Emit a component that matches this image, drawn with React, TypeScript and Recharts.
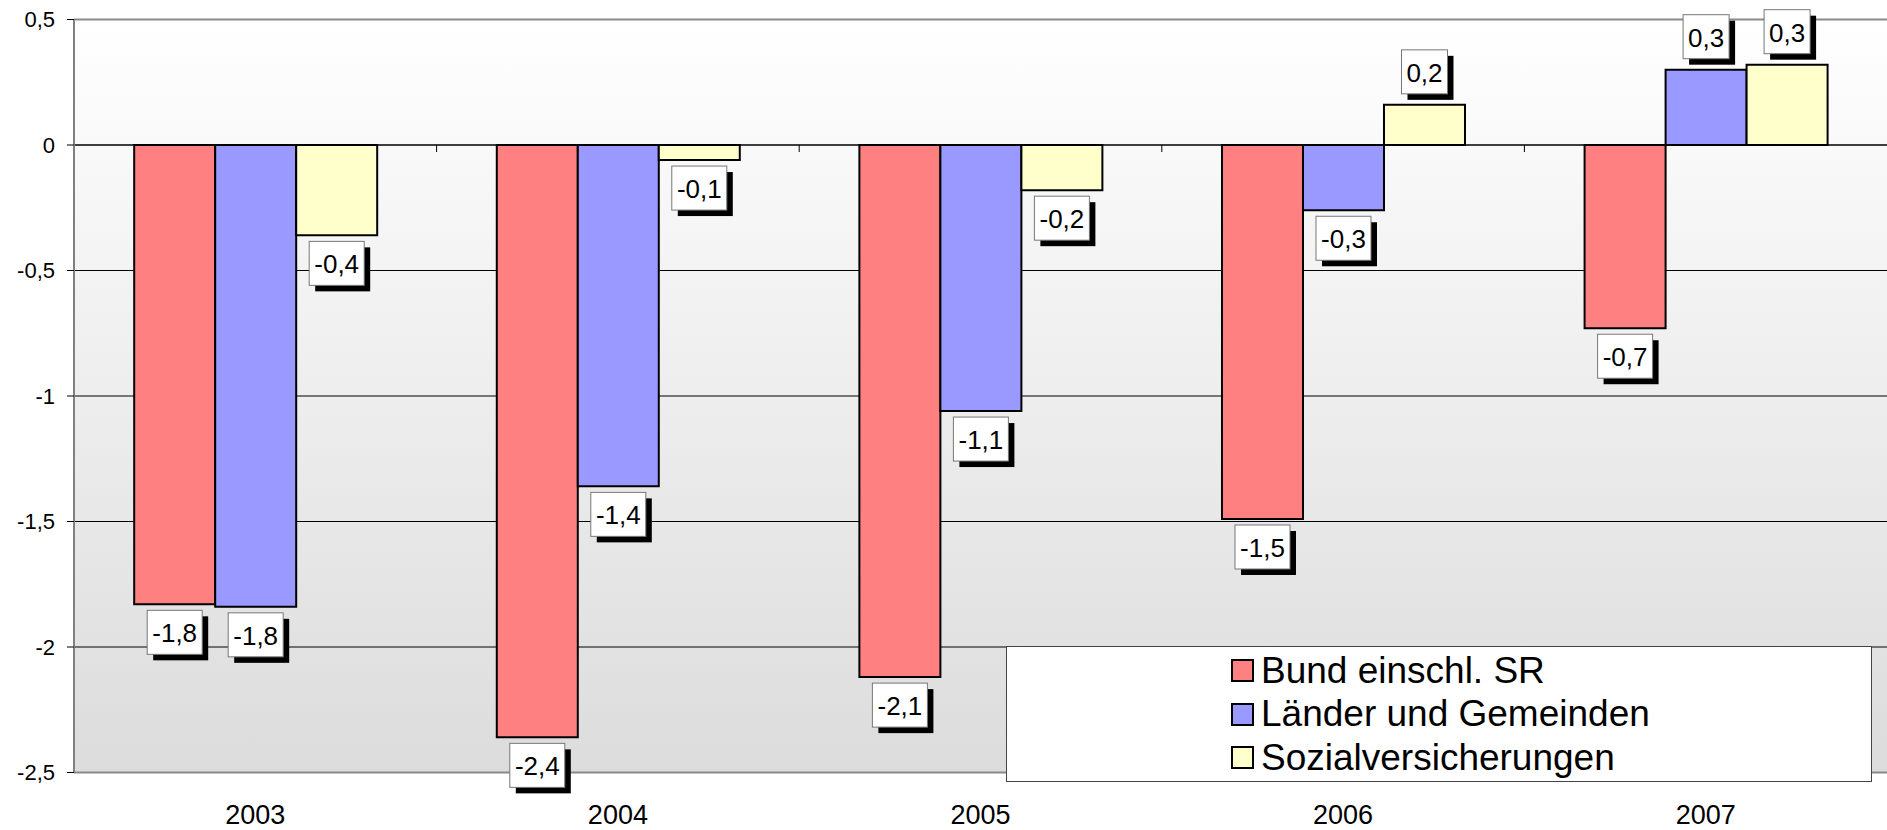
import { BarChart, Bar, XAxis, YAxis, CartesianGrid, ReferenceLine, LabelList } from 'recharts';

const years = ['2003', '2004', '2005', '2006', '2007'];
const bund = [-1.83, -2.36, -2.12, -1.49, -0.73];
const laender = [-1.84, -1.36, -1.06, -0.26, 0.3];
const sozial = [-0.36, -0.06, -0.18, 0.16, 0.32];
const yTicks = [-2.5, -2, -1.5, -1, -0.5, 0, 0.5];

const seriesNames = ['Bund einschl. SR', 'Länder und Gemeinden', 'Sozialversicherungen'];
const seriesColors = ['#FF8080', '#9999FF', '#FFFFCC'];

const FONT = "Arial, 'Liberation Sans', sans-serif";

const chartData = years.map((year, i) => ({
  year,
  bund: bund[i],
  laender: laender[i],
  sozial: sozial[i],
}));

const fmt = (v: number) => (v === 0 ? '0' : v.toFixed(1).replace('.', ','));
const fmtTick = (v: number) => String(v).replace('.', ',');

// rough Arial widths, only used to size the label boxes
const textWidth = (s: string, size: number) =>
  s.split('').reduce((w, c) => w + (c === '-' ? 0.333 : c === ',' ? 0.278 : 0.556), 0) * size;

function ValueLabel(props: any) {
  const { x, y, width, height, value } = props;
  const v = Number(value);
  const text = fmt(v);
  const top = Math.min(y, y + height);
  const bottom = Math.max(y, y + height);
  const w = Math.round(textWidth(text, 26) + 10);
  const h = 44;
  const cx = x + width / 2;
  const bx = cx - w / 2;
  const by = v < 0 ? bottom + 6 : top - 11 - h;
  return (
    <g>
      <rect x={bx + 6} y={by + 6} width={w} height={h} fill="#000" />
      <rect x={bx} y={by} width={w} height={h} fill="#fff" stroke="#777" strokeWidth={1} />
      <text x={cx} y={by + h / 2 + 1} textAnchor="middle" dominantBaseline="central" fontSize={26} fontFamily={FONT} fill="#000">
        {text}
      </text>
    </g>
  );
}

function YearTick(props: any) {
  const { x, y, payload } = props;
  return (
    <text x={x} y={y} dy={17} textAnchor="middle" fontSize={27} fontFamily={FONT} fill="#000">
      {payload.value}
    </text>
  );
}

// zero line with the little category ticks hanging below it
function ZeroLine(props: any) {
  const { x1, x2, y1 } = props;
  const step = (x2 - x1) / years.length;
  return (
    <g>
      <line x1={x1} x2={x2} y1={y1} y2={y1} stroke="#000" strokeWidth={1} />
      {years.slice(1).map((_, i) => (
        <line key={i} x1={x1 + step * (i + 1)} x2={x1 + step * (i + 1)} y1={y1} y2={y1 + 7} stroke="#000" strokeWidth={1} />
      ))}
    </g>
  );
}

function LegendBox() {
  return (
    <div
      style={{
        position: 'absolute',
        left: 1006,
        top: 646,
        width: 864,
        height: 134,
        background: '#fff',
        border: '1px solid #444',
        fontFamily: FONT,
        fontSize: 37,
        color: '#000',
      }}
    >
      {seriesNames.map((name, i) => (
        <div key={name} style={{ position: 'absolute', left: 224, top: 2 + i * 43.5, height: 43, display: 'flex', alignItems: 'center' }}>
          <span style={{ width: 19, height: 19, background: seriesColors[i], border: '2px solid #000', marginRight: 7 }} />
          <span>{name}</span>
        </div>
      ))}
    </div>
  );
}

export default function App() {
  return (
    <div style={{ position: 'absolute', left: 0, top: 0, width: 1887, height: 830, background: '#fff' }}>
      <BarChart
        width={1887}
        height={830}
        data={chartData}
        margin={{ top: 19.5, right: 0, bottom: 7.5, left: 0 }}
        barCategoryGap="16.6%"
        barGap={0}
      >
        <defs>
          <linearGradient id="plotBg" x1="0" y1="0" x2="0" y2="1">
            <stop offset="0%" stopColor="#ffffff" />
            <stop offset="100%" stopColor="#dcdcdc" />
          </linearGradient>
        </defs>
        <CartesianGrid vertical={false} stroke="#000" strokeWidth={1} fill="url(#plotBg)" />
        <XAxis
          dataKey="year"
          height={50}
          axisLine={false}
          tickLine={false}
          tickSize={0}
          tickMargin={34}
          tick={<YearTick />}
        />
        <YAxis
          width={74}
          domain={[-2.5, 0.5]}
          ticks={yTicks}
          interval={0}
          tickFormatter={fmtTick}
          axisLine={{ stroke: '#808080', strokeWidth: 2 }}
          tickLine={{ stroke: '#000' }}
          tickSize={7}
          tickMargin={12}
          tick={{ fontSize: 22, fill: '#000', fontFamily: FONT }}
        />
        <ReferenceLine y={0.5} stroke="#8a8a8a" strokeWidth={2} />
        <ReferenceLine y={-2.5} stroke="#8a8a8a" strokeWidth={2} />
        <ReferenceLine y={0} shape={ZeroLine} />
        <Bar dataKey="bund" fill={seriesColors[0]} stroke="#000" strokeWidth={2} isAnimationActive={false}>
          <LabelList dataKey="bund" content={ValueLabel} />
        </Bar>
        <Bar dataKey="laender" fill={seriesColors[1]} stroke="#000" strokeWidth={2} isAnimationActive={false}>
          <LabelList dataKey="laender" content={ValueLabel} />
        </Bar>
        <Bar dataKey="sozial" fill={seriesColors[2]} stroke="#000" strokeWidth={2} isAnimationActive={false}>
          <LabelList dataKey="sozial" content={ValueLabel} />
        </Bar>
      </BarChart>
      <LegendBox />
    </div>
  );
}
